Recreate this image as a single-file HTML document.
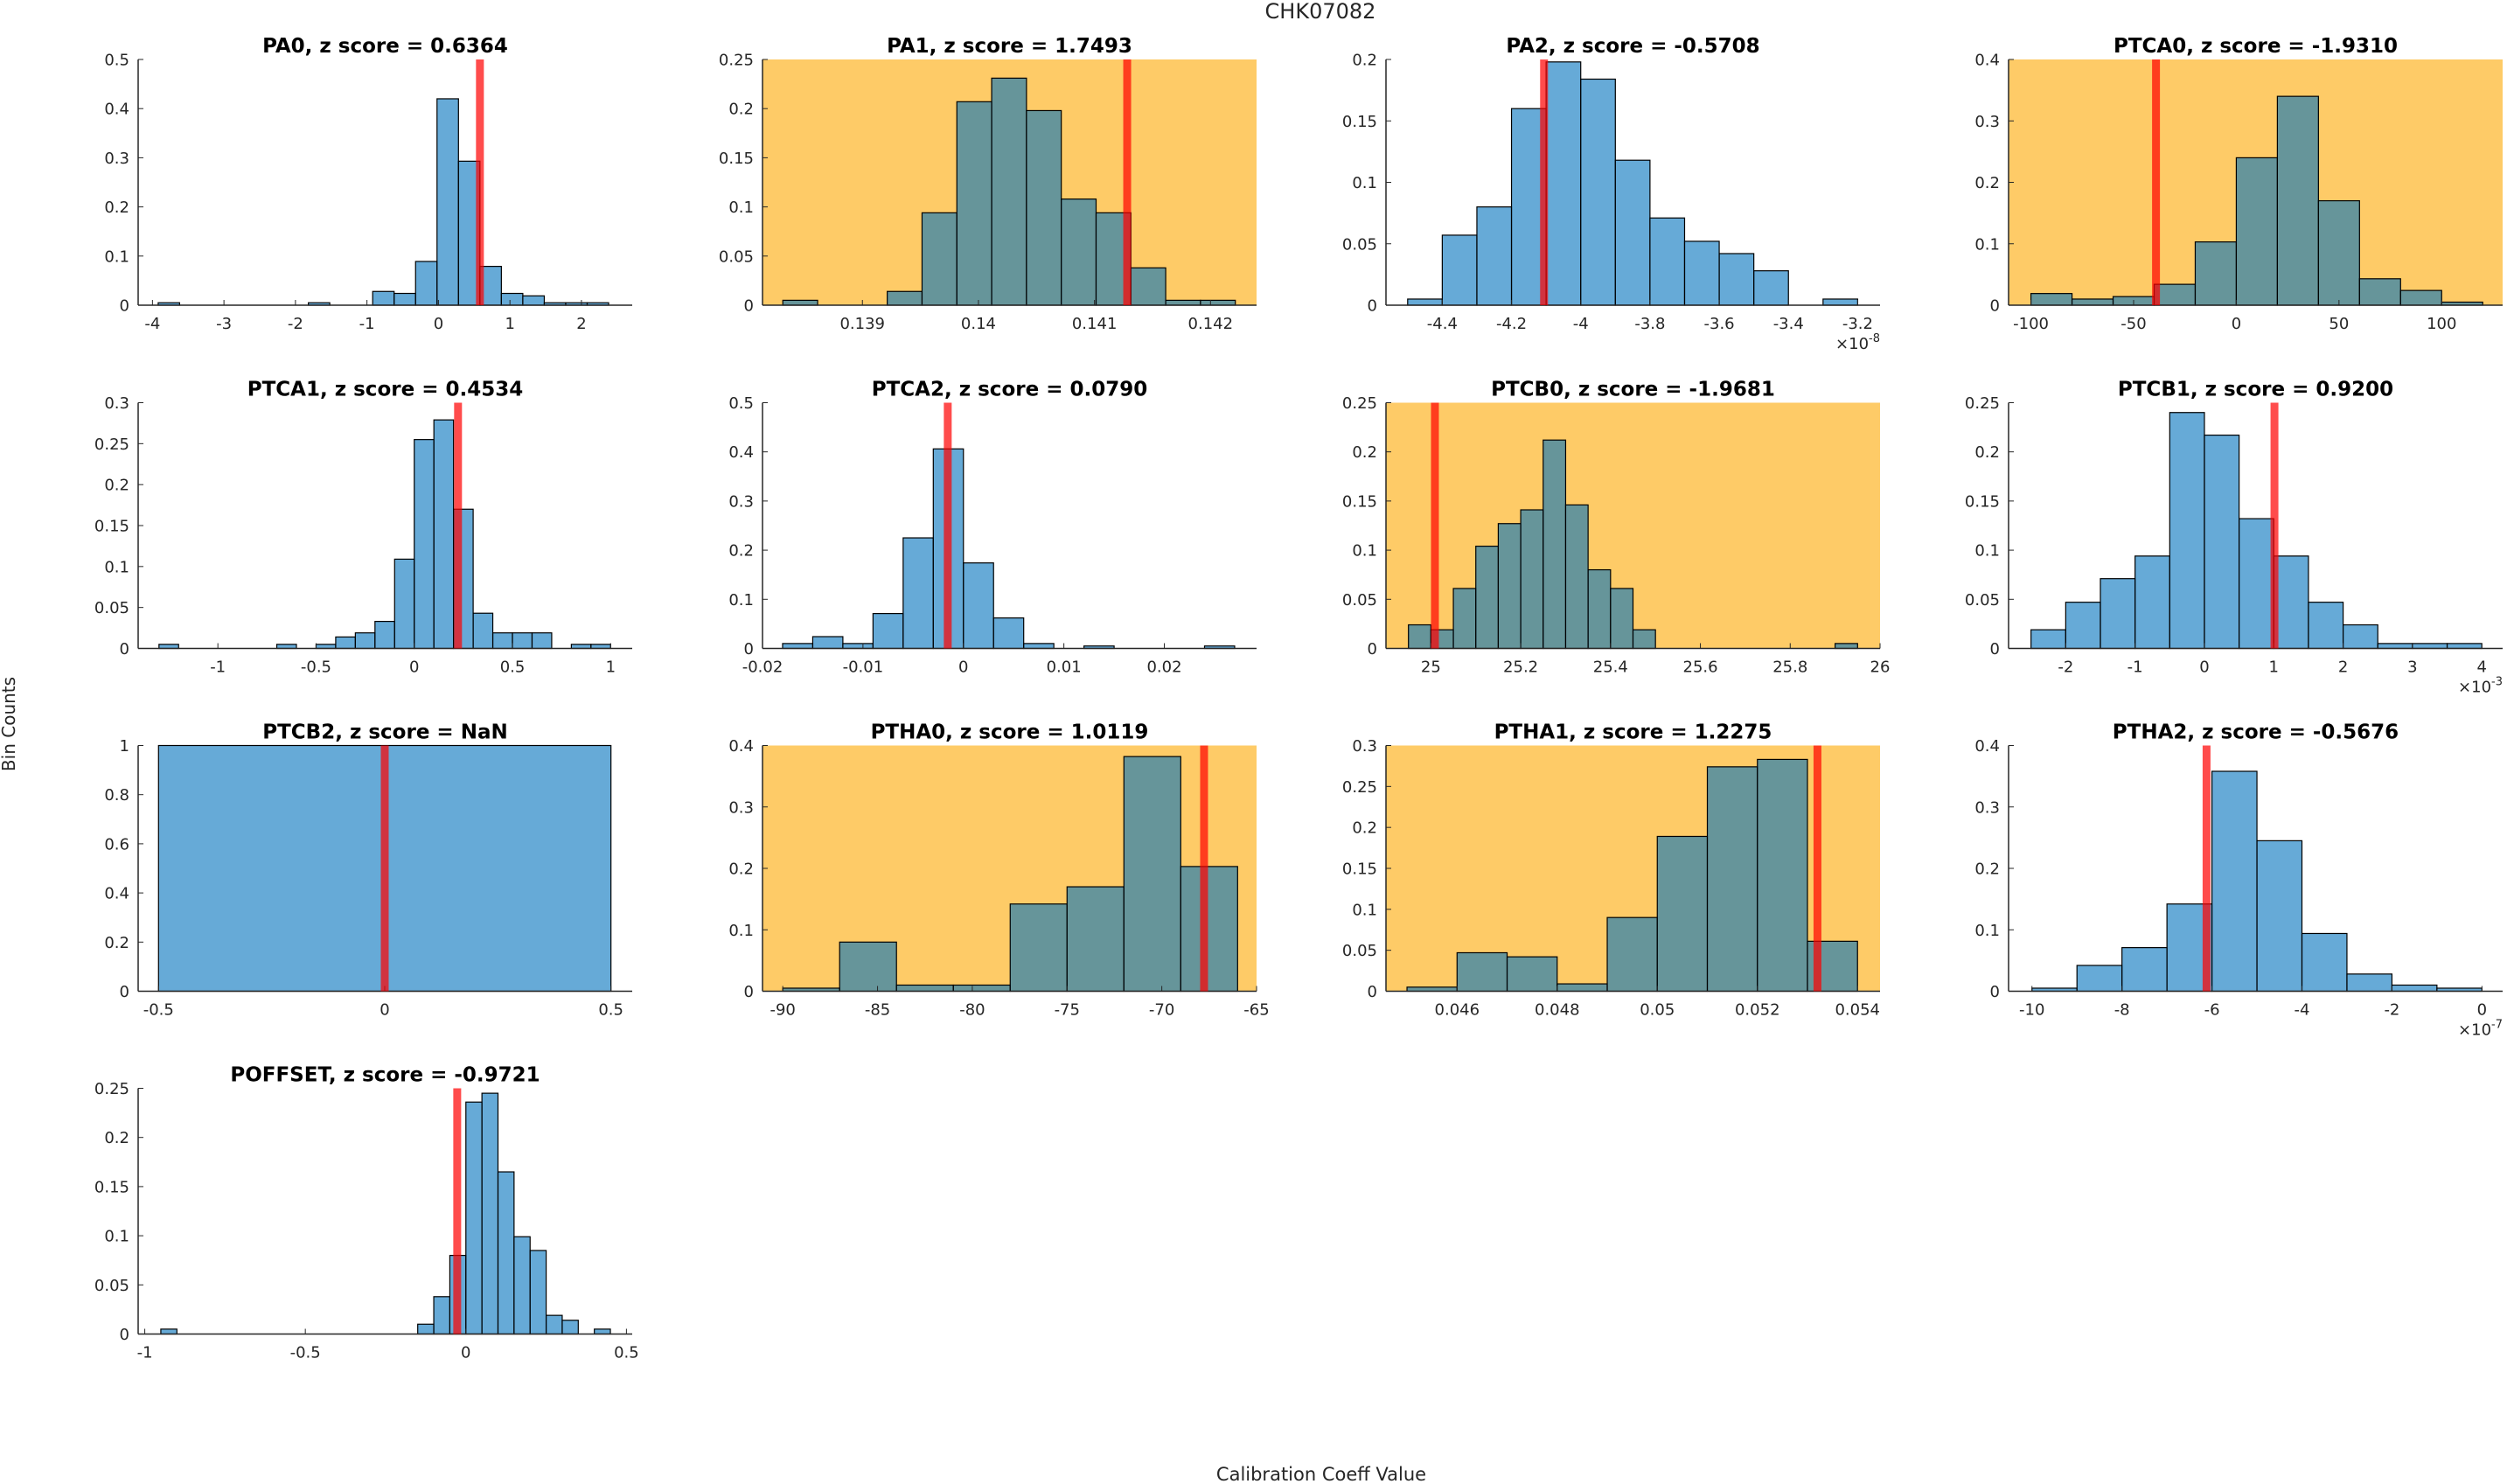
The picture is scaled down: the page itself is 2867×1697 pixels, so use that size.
<!DOCTYPE html>
<html><head><meta charset="utf-8"><title>CHK07082</title>
<style>
html,body{margin:0;padding:0;background:#fff;}
svg{display:block;font-family:"DejaVu Sans","Liberation Sans",sans-serif;}
</style></head>
<body>
<svg id="fig" xmlns="http://www.w3.org/2000/svg" width="2867" height="1697" viewBox="0 0 2867 1697">
<rect x="0" y="0" width="2867" height="1697" fill="#ffffff"/>
<text x="1510" y="21" font-size="24" text-anchor="middle" fill="#262626">CHK07082</text>
<text x="1511" y="1693" font-size="21" text-anchor="middle" fill="#262626">Calibration Coeff Value</text>
<text x="0" y="0" font-size="20" text-anchor="middle" fill="#262626" transform="translate(17,828) rotate(-90)">Bin Counts</text>
</svg>
<script>
const panelNames = ["PA0","PA1","PA2","PTCA0","PTCA1","PTCA2","PTCB0","PTCB1","PTCB2","PTHA0","PTHA1","PTHA2","POFFSET"];
const zScoreLabels = ["0.6364","1.7493","-0.5708","-1.9310","0.4534","0.0790","-1.9681","0.9200","NaN","1.0119","1.2275","-0.5676","-0.9721"];
const flagged = [false,true,false,true,false,false,true,false,false,true,true,false,false];
const refValues = [0.58,0.141282,-4.106,-39.1,0.223,-0.00156,25.009,1.01,0,-67.77,0.0532,-6.12,-0.027];
const binStarts = [-3.92,0.138314,-4.5,-100,-1.3,-0.018,24.95,-2.5,-0.5,-90,0.045,-10,-0.95];
const binWidths = [0.3,0.0003,0.1,20,0.1,0.003,0.05,0.5,1,3,0.001,1,0.05];
const countsPA0 = [0.005,0,0,0,0,0,0,0.005,0,0,0.028,0.024,0.089,0.42,0.293,0.079,0.024,0.019,0.005,0.005,0.005];
const countsPA1 = [0.005,0,0,0.014,0.094,0.207,0.231,0.198,0.108,0.094,0.038,0.005,0.005];
const countsPA2 = [0.005,0.057,0.080,0.160,0.198,0.184,0.118,0.071,0.052,0.042,0.028,0,0.005];
const countsPTCA0 = [0.019,0.010,0.014,0.034,0.103,0.240,0.340,0.170,0.043,0.024,0.005];
const countsPTCA1 = [0.005,0,0,0,0,0,0.005,0,0.005,0.014,0.019,0.033,0.109,0.255,0.279,0.170,0.043,0.019,0.019,0.019,0,0.005,0.005];
const countsPTCA2 = [0.010,0.024,0.010,0.071,0.225,0.406,0.174,0.062,0.010,0,0.005,0,0,0,0.005];
const countsPTCB0 = [0.024,0.019,0.061,0.104,0.127,0.141,0.212,0.146,0.080,0.061,0.019,0,0,0,0,0,0,0,0,0.005];
const countsPTCB1 = [0.019,0.047,0.071,0.094,0.240,0.217,0.132,0.094,0.047,0.024,0.005,0.005,0.005];
const countsPTCB2 = [1];
const countsPTHA0 = [0.005,0.080,0.010,0.010,0.142,0.170,0.382,0.203];
const countsPTHA1 = [0.005,0.047,0.042,0.009,0.090,0.189,0.274,0.283,0.061];
const countsPTHA2 = [0.005,0.042,0.071,0.142,0.358,0.245,0.094,0.028,0.010,0.005];
const countsPOFFSET = [0.005,0,0,0,0,0,0,0,0,0,0,0,0,0,0,0,0.010,0.038,0.080,0.236,0.245,0.165,0.099,0.085,0.019,0.014,0,0.005];
const allCounts = [countsPA0,countsPA1,countsPA2,countsPTCA0,countsPTCA1,countsPTCA2,countsPTCB0,countsPTCB1,countsPTCB2,countsPTHA0,countsPTHA1,countsPTHA2,countsPOFFSET];
const xLimits = [[-4.2,2.71],[0.138139,0.142397],[-4.5626,-3.1354],[-110.9,129.7],[-1.406,1.11],[-0.02,0.02918],[24.9,26],[-2.824,4.3],[-0.545,0.547],[-91.07,-65],[0.04458,0.05445],[-10.52,0.46],[-1.0206,0.518]];
const yMaxes = [0.5,0.25,0.2,0.4,0.3,0.5,0.25,0.25,1,0.4,0.3,0.4,0.25];
const xTicks = [[-4,-3,-2,-1,0,1,2],[0.139,0.14,0.141,0.142],[-4.4,-4.2,-4,-3.8,-3.6,-3.4,-3.2],[-100,-50,0,50,100],[-1,-0.5,0,0.5,1],[-0.02,-0.01,0,0.01,0.02],[25,25.2,25.4,25.6,25.8,26],[-2,-1,0,1,2,3,4],[-0.5,0,0.5],[-90,-85,-80,-75,-70,-65],[0.046,0.048,0.05,0.052,0.054],[-10,-8,-6,-4,-2,0],[-1,-0.5,0,0.5]];
const yTicks01 = ["0","0.1","0.2","0.3","0.4","0.5"];
const yTicks005 = ["0","0.05","0.1","0.15","0.2","0.25","0.3"];
const yTicks02 = ["0","0.2","0.4","0.6","0.8","1"];
const exponents = [null,null,"-8",null,null,null,null,"-3",null,null,null,"-7",null];

const NS = "http://www.w3.org/2000/svg";
const svg = document.getElementById("fig");
const colLefts = [158,872,1585,2297];
const rowTops = [68,460.5,852.5,1244.5];
const W = 565, H = 281;
function mk(tag, attrs, parent){
  const e = document.createElementNS(NS, tag);
  for (const k in attrs) e.setAttribute(k, attrs[k]);
  (parent||svg).appendChild(e);
  return e;
}
function slug(s){return s.toLowerCase();}

panelNames.forEach(function(name, i){
  const left = colLefts[i % 4], top = rowTops[Math.floor(i / 4)];
  const xmin = xLimits[i][0], xmax = xLimits[i][1], ymax = yMaxes[i];
  const xs = function(v){ return left + (v - xmin) / (xmax - xmin) * W; };
  const ys = function(v){ return top + H - v / ymax * H; };
  const g = mk("g", {});
  
  
  if (flagged[i]) {
    const bg = mk("rect", {x:left, y:top, width:W, height:H, fill:"#fecb67"}, g);
    
    
  }
  const counts = allCounts[i];
  counts.forEach(function(c, k){
    const x0 = xs(binStarts[i] + k * binWidths[i]);
    const x1 = xs(binStarts[i] + (k + 1) * binWidths[i]);
    const y0 = ys(c);
    const r = mk("rect", {x:x0, y:y0, width:x1 - x0, height:ys(0) - y0, fill:"rgb(0,114,189)", "fill-opacity":"0.6", stroke:"#000", "stroke-width":"1.2"}, g);
    
    
  });
  const xa = mk("line", {x1:left, y1:top + H, x2:left + W, y2:top + H, stroke:"#262626", "stroke-width":"1.5"}, g);
  
  
  const ya = mk("line", {x1:left, y1:top, x2:left, y2:top + H, stroke:"#262626", "stroke-width":"1.5"}, g);
  
  
  xTicks[i].forEach(function(v){
    const px = xs(v);
    mk("line", {x1:px, y1:top + H, x2:px, y2:top + H - 6, stroke:"#262626", "stroke-width":"1"}, g);
    const t = mk("text", {x:px, y:top + H + 27, "font-size":"18", "text-anchor":"middle", fill:"#262626"}, g);
    
    
    t.textContent = String(v);
  });
  const labels = ymax === 1 ? yTicks02 : (ymax === 0.5 || ymax === 0.4 ? yTicks01 : yTicks005);
  labels.forEach(function(lbl){
    const v = parseFloat(lbl);
    if (v > ymax + 1e-9) return;
    const py = ys(v);
    mk("line", {x1:left, y1:py, x2:left + 6, y2:py, stroke:"#262626", "stroke-width":"1"}, g);
    const t = mk("text", {x:left - 10, y:py + 6.5, "font-size":"18", "text-anchor":"end", fill:"#262626"}, g);
    
    
    t.textContent = lbl;
  });
  const rl = mk("rect", {x:xs(refValues[i]) - 4.5, y:top, width:9, height:H, fill:"rgb(255,0,0)", "fill-opacity":"0.7"}, g);
  
  
  const tt = mk("text", {x:left + W / 2, y:top - 8, "font-size":"23", "font-weight":"bold", "text-anchor":"middle", fill:"#000"}, g);
  
  
  tt.textContent = name + ", z score = " + zScoreLabels[i];
  if (exponents[i]) {
    const ex = mk("text", {x:left + W, y:top + H + 50, "font-size":"18", "text-anchor":"end", fill:"#262626"}, g);
    
    
    ex.textContent = "×10";
    const sup = mk("tspan", {dy:"-8", "font-size":"13"}, ex);
    sup.textContent = exponents[i];
  }
});
</script>
</body></html>
